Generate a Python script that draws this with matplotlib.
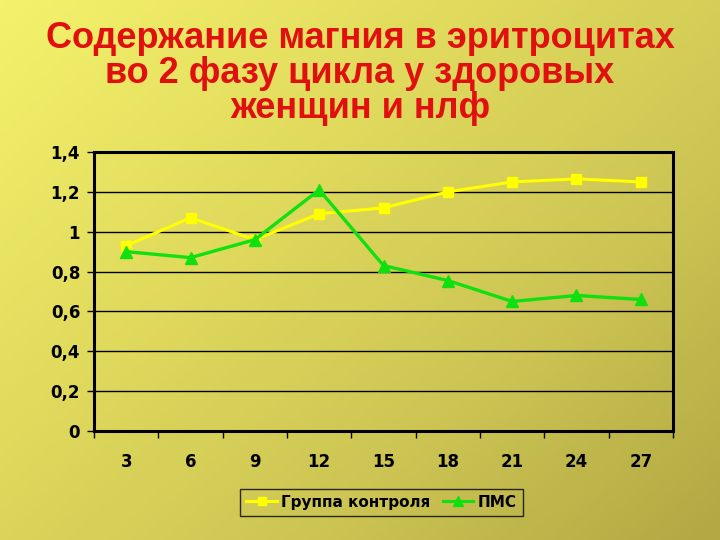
"""Magnesium in erythrocytes, phase 2 of the cycle: control vs PMS."""

import numpy as np
import matplotlib.pyplot as plt
from matplotlib.colors import LinearSegmentedColormap
from matplotlib.lines import Line2D
from matplotlib.ticker import FuncFormatter, FixedLocator

plt.rcParams["font.family"] = ["Liberation Sans", "DejaVu Sans"]

DAYS = ["3", "6", "9", "12", "15", "18", "21", "24", "27"]
CONTROL = [0.93, 1.07, 0.96, 1.09, 1.12, 1.20, 1.25, 1.265, 1.25]
PMS = [0.90, 0.87, 0.96, 1.21, 0.83, 0.755, 0.65, 0.68, 0.66]
SERIES_NAMES = ["Группа контроля", "ПМС"]

TITLE = "Содержание магния в эритроцитах\nво 2 фазу цикла у здоровых\nженщин и нлф"

YELLOW = "#FFFF00"
GREEN = "#10E010"
TITLE_RED = "#E01010"


def comma_fmt(v, _pos):
    s = f"{v:.1f}".rstrip("0").rstrip(".")
    return s.replace(".", ",")


fig = plt.figure(figsize=(7.2, 5.4), dpi=100)

# diagonal yellow -> olive background
bg = fig.add_axes([0, 0, 1, 1], zorder=-10)
gx, gy = np.meshgrid(np.linspace(0, 1, 200), np.linspace(0, 1, 150))
grad = 0.55 * gx + 0.45 * gy
cmap = LinearSegmentedColormap.from_list(
    "bg", ["#F4F26C", "#E2DC5E", "#CEC654", "#B2A844"]
)
bg.imshow(grad, cmap=cmap, aspect="auto", extent=[0, 1, 0, 1], origin="upper")
bg.axis("off")

fig.text(0.5, 0.961, TITLE, ha="center", va="top", fontsize=26,
         fontweight="bold", color=TITLE_RED, linespacing=1.0)

ax = fig.add_axes([0.1306, 0.2019, 0.8041, 0.5166])
ax.patch.set_alpha(0)

ax.plot(DAYS, CONTROL, color=YELLOW, lw=2.2, marker="s", ms=7,
        mec=YELLOW, mfc=YELLOW, zorder=3)
ax.plot(DAYS, PMS, color=GREEN, lw=2.4, marker="^", ms=8,
        mec=GREEN, mfc=GREEN, zorder=4)

ax.set_xlim(-0.5, len(DAYS) - 0.5)
ax.set_ylim(0, 1.4)
ax.set_yticks(np.arange(0, 1.41, 0.2))
ax.yaxis.set_major_formatter(FuncFormatter(comma_fmt))
ax.yaxis.grid(True, color="black", lw=1.0)
ax.set_axisbelow(True)

ax.xaxis.set_minor_locator(FixedLocator(np.arange(-0.5, len(DAYS), 1.0)))
ax.tick_params(axis="x", which="major", length=0, pad=16)
ax.tick_params(axis="x", which="minor", length=5, width=1, direction="out")
ax.tick_params(axis="y", length=5, width=1, direction="out", pad=5)
for lab in ax.get_xticklabels() + ax.get_yticklabels():
    lab.set_fontfamily(["DejaVu Sans"])
    lab.set_fontweight("bold")
    lab.set_fontsize(12)
    lab.set_color("black")

for side in ("left", "bottom", "right", "top"):
    ax.spines[side].set_linewidth(2.2)

handles = [
    Line2D([], [], color=YELLOW, lw=2.2, marker="s", ms=6, mec=YELLOW),
    Line2D([], [], color=GREEN, lw=2.2, marker="^", ms=7, mec=GREEN),
]
leg = fig.legend(handles, SERIES_NAMES, loc="center", bbox_to_anchor=(0.53, 0.07),
                 ncol=2, frameon=True, fancybox=False, handlelength=2.0,
                 handletextpad=0.3, columnspacing=0.8, borderpad=0.4,
                 prop={"family": "DejaVu Sans", "weight": "bold", "size": 11})
leg.get_frame().set_edgecolor("black")
leg.get_frame().set_facecolor("none")
leg.get_frame().set_linewidth(1.0)

fig.savefig("out.png", dpi=100)
